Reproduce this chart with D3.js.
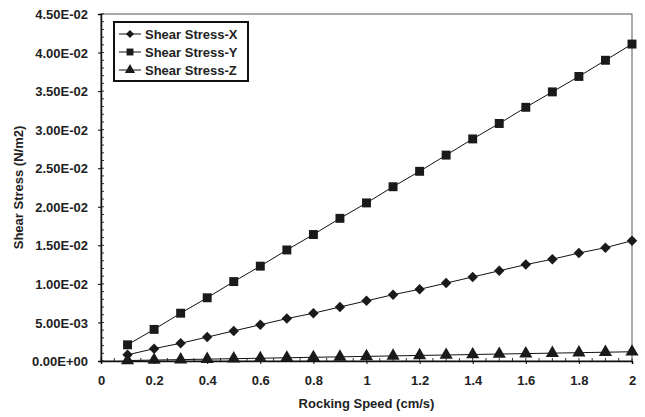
<!DOCTYPE html>
<html>
<head>
<meta charset="utf-8">
<script src="https://cdn.jsdelivr.net/npm/d3@7"></script>
<style>
  body { margin: 0; background: #fff; }
  text { font-family: "Liberation Sans", Arial, sans-serif; font-weight: bold; fill: #222; }
</style>
</head>
<body>
<div id="chart"></div>
<script>
// data
var speeds = [0.1, 0.2, 0.3, 0.4, 0.5, 0.6, 0.7, 0.8, 0.9, 1.0,
              1.1, 1.2, 1.3, 1.4, 1.5, 1.6, 1.7, 1.8, 1.9, 2.0];
var stressX = [0.0008, 0.0016, 0.0023, 0.0031, 0.0039, 0.0047, 0.0055, 0.0062, 0.0070, 0.0078,
               0.0086, 0.0093, 0.0101, 0.0109, 0.0117, 0.0125, 0.0132, 0.0140, 0.0147, 0.0156];
var stressY = [0.0021, 0.0041, 0.0062, 0.0082, 0.0103, 0.0123, 0.0144, 0.0164, 0.0185, 0.0205,
               0.0226, 0.0246, 0.0267, 0.0288, 0.0308, 0.0329, 0.0349, 0.0369, 0.0390, 0.0411];
var stressZ = [0.00006, 0.00012, 0.00018, 0.00024, 0.0003, 0.00036, 0.00042, 0.00048, 0.00054, 0.0006,
               0.00066, 0.00072, 0.00078, 0.00084, 0.0009, 0.00096, 0.00102, 0.00108, 0.00114, 0.0012];
var seriesNames = ["Shear Stress-X", "Shear Stress-Y", "Shear Stress-Z"];
var xTicks = [0, 0.2, 0.4, 0.6, 0.8, 1, 1.2, 1.4, 1.6, 1.8, 2];
var yTicks = [0, 0.005, 0.01, 0.015, 0.02, 0.025, 0.03, 0.035, 0.04, 0.045];

var margin = {top: 14, right: 13, bottom: 56, left: 101},
    width = 645 - margin.left - margin.right,
    height = 417 - margin.top - margin.bottom;

var svg = d3.select("#chart")
  .append("svg")
  .attr("width", 645)
  .attr("height", 417)
  .append("g")
  .attr("transform", `translate(${margin.left},${margin.top})`);

var x = d3.scaleLinear().domain([0, 2]).range([0, width]);
var y = d3.scaleLinear().domain([0, 0.045]).range([height, 0]);

// frame (top / right)
svg.append("rect")
  .attr("x", 0).attr("y", 0)
  .attr("width", width).attr("height", height)
  .attr("fill", "none")
  .attr("stroke", "#555")
  .attr("stroke-width", 1);

// minor ticks, pointing inside
var yMinor = d3.range(0, 0.0451, 0.001);
svg.append("g").selectAll("line")
  .data(yMinor)
  .join("line")
  .attr("x1", 0).attr("x2", 3)
  .attr("y1", d => y(d)).attr("y2", d => y(d))
  .attr("stroke", "#333");

var xMinor = d3.range(0, 2.001, 0.05);
svg.append("g").selectAll("line")
  .data(xMinor)
  .join("line")
  .attr("x1", d => x(d)).attr("x2", d => x(d))
  .attr("y1", height).attr("y2", height - 3)
  .attr("stroke", "#333");

// axes
var fmt = function(d) {
  if (d === 0) return "0.00E+00";
  return d.toExponential(2).replace("e-", "E-0");
};

var yAxis = svg.append("g")
  .call(d3.axisLeft(y).tickValues(yTicks).tickFormat(fmt).tickSize(3).tickPadding(10));
yAxis.select(".domain").attr("stroke", "#111").attr("stroke-width", 1.5);
yAxis.selectAll("text").style("font-size", "13px").attr("dy", "0.35em");

var xAxis = svg.append("g")
  .attr("transform", `translate(0,${height})`)
  .call(d3.axisBottom(x).tickValues(xTicks).tickFormat(d3.format("")).tickSize(3).tickPadding(12));
xAxis.select(".domain").attr("stroke", "#111").attr("stroke-width", 1.5);
xAxis.selectAll("text").style("font-size", "13px");

// titles
svg.append("text")
  .attr("x", width / 2)
  .attr("y", height + 47)
  .attr("text-anchor", "middle")
  .style("font-size", "13px")
  .text("Rocking Speed (cm/s)");

svg.append("text")
  .attr("transform", `translate(${-78},${height / 2}) rotate(-90)`)
  .attr("text-anchor", "middle")
  .style("font-size", "13px")
  .text("Shear Stress (N/m2)");

// series (diamond = square turned 45deg)
var series = [
  {name: seriesNames[0], values: stressX, symbol: d3.symbolSquare, size: 55, rot: 45},
  {name: seriesNames[1], values: stressY, symbol: d3.symbolSquare, size: 80, rot: 0},
  {name: seriesNames[2], values: stressZ, symbol: d3.symbolTriangle, size: 75, rot: 0}
];

var line = d3.line()
  .x(d => x(d[0]))
  .y(d => y(d[1]));

series.forEach(function(s) {
  var pts = speeds.map((v, i) => [v, s.values[i]]);
  svg.append("path")
    .datum(pts)
    .attr("fill", "none")
    .attr("stroke", "#111")
    .attr("stroke-width", 1)
    .attr("d", line);
  svg.append("g").selectAll("path")
    .data(pts)
    .join("path")
    .attr("transform", d => `translate(${x(d[0])},${y(d[1])}) rotate(${s.rot})`)
    .attr("d", d3.symbol().type(s.symbol).size(s.size))
    .attr("fill", "#1a1a1a");
});

// legend
var legend = svg.append("g").attr("transform", "translate(13,8)");
legend.append("rect")
  .attr("width", 134).attr("height", 59)
  .attr("fill", "#fff")
  .attr("stroke", "#111")
  .attr("stroke-width", 2);

series.forEach(function(s, i) {
  var gy = 12 + i * 18;
  legend.append("line")
    .attr("x1", 5).attr("x2", 27)
    .attr("y1", gy).attr("y2", gy)
    .attr("stroke", "#111");
  legend.append("path")
    .attr("transform", `translate(16,${gy}) rotate(${s.rot})`)
    .attr("d", d3.symbol().type(s.symbol).size(s.size * 0.6))
    .attr("fill", "#1a1a1a");
  legend.append("text")
    .attr("x", 31).attr("y", gy)
    .attr("dy", "0.35em")
    .style("font-size", "13px")
    .text(s.name);
});
</script>
</body>
</html>
